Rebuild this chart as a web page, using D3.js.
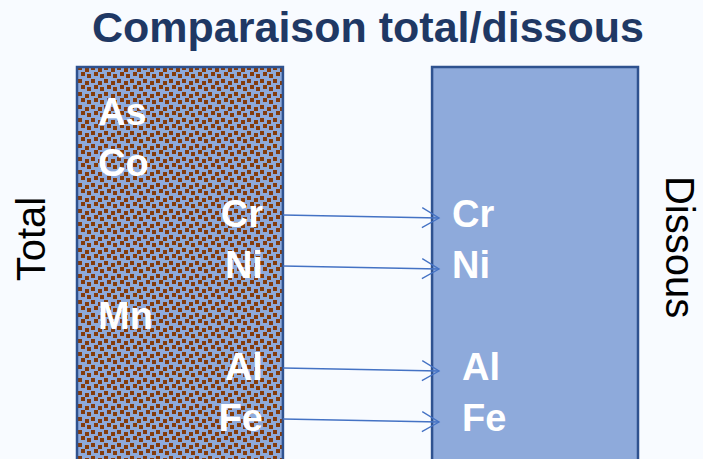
<!DOCTYPE html>
<html><head><meta charset="utf-8">
<script src="https://cdn.jsdelivr.net/npm/d3@7"></script>
<style>html,body{margin:0;padding:0;background:#f8fbff;}svg{display:block;}</style>
</head><body>
<svg id="c" width="703" height="459"></svg>
<script>
// ---- data ----
const title = "Comparaison total/dissous";
const rows = ["As", "Co", "Cr", "Ni", "Mn", "Al", "Fe"];
const totalElements = ["As", "Co", "Cr", "Ni", "Mn", "Al", "Fe"];
const dissolvedElements = ["Cr", "Ni", "Al", "Fe"];
const sideLabels = ["Total", "Dissous"];

// ---- drawing ----
const svg = d3.select("#c");
const W = 703, H = 459;
const blue = "#8eaadb", brown = "#843c0c", border = "#2f528f", navy = "#1f3864";

const defs = svg.append("defs");
const T = 13;
const pat = defs.append("pattern").attr("id", "conf").attr("patternUnits", "userSpaceOnUse")
  .attr("width", T).attr("height", T);
pat.append("rect").attr("width", T).attr("height", T).attr("fill", blue);
[[0,1],[7,3],[3,7],[9,9]].forEach(([x,y]) => {
  pat.append("rect").attr("x", x).attr("y", y).attr("width", 4).attr("height", 4).attr("fill", brown);
});

const mk = defs.append("marker").attr("id", "arr").attr("viewBox", "-18 -11 20 22")
  .attr("refX", 0).attr("refY", 0).attr("markerWidth", 20).attr("markerHeight", 22)
  .attr("markerUnits", "userSpaceOnUse").attr("orient", "auto");
mk.append("path").attr("d", "M-17,-10 L0,0 L-17,10").attr("fill", "none")
  .attr("stroke", "#4472c4").attr("stroke-width", 1.3);

// scales
const y = d3.scalePoint().domain(rows).range([125, 431]);
const col = d3.scaleBand().domain(sideLabels).range([77, 638]).paddingInner(0.42);

// title
svg.append("text").attr("x", 368).attr("y", 42).attr("text-anchor", "middle")
  .attr("font-family", "Liberation Sans, Arial, sans-serif").attr("font-weight", "bold")
  .attr("font-size", 43).attr("fill", navy).text(title);

// boxes
const xT = col("Total"), xD = col("Dissous"), bw = col.bandwidth();
svg.append("rect").attr("x", xT).attr("y", 67).attr("width", bw).attr("height", H)
  .attr("fill", "url(#conf)").attr("stroke", border).attr("stroke-width", 2.5);
svg.append("rect").attr("x", xD).attr("y", 67).attr("width", bw).attr("height", H)
  .attr("fill", blue).attr("stroke", border).attr("stroke-width", 2.5);

// arrows
const arrowDy = -10;
svg.selectAll("line.arrow").data(dissolvedElements).join("line").attr("class", "arrow")
  .attr("x1", xT + bw).attr("y1", d => y(d) + arrowDy - 2)
  .attr("x2", xD + 7).attr("y2", d => y(d) + arrowDy + 1)
  .attr("stroke", "#4472c4").attr("stroke-width", 1.3).attr("marker-end", "url(#arr)");

// total labels
const lab = { "font-family": "Liberation Sans, Arial, sans-serif", "font-weight": "bold", "font-size": 38, "fill": "#fff" };
const tl = svg.selectAll("text.tot").data(totalElements).join("text").attr("class", "tot")
  .attr("x", d => dissolvedElements.includes(d) ? xT + bw - 20 : xT + 21)
  .attr("text-anchor", d => dissolvedElements.includes(d) ? "end" : "start")
  .attr("y", d => y(d)).text(d => d);
Object.entries(lab).forEach(([k, v]) => tl.attr(k, v));

const dl = svg.selectAll("text.dis").data(dissolvedElements).join("text").attr("class", "dis")
  .attr("x", (d, i) => xD + (i < 2 ? 20 : 30))
  .attr("y", d => y(d)).text(d => d);
Object.entries(lab).forEach(([k, v]) => dl.attr(k, v));

// side labels
svg.append("text").attr("transform", "translate(45,239) rotate(-90)").attr("text-anchor", "middle")
  .attr("font-family", "Liberation Sans, Arial, sans-serif").attr("font-size", 40).attr("fill", "#000")
  .text(sideLabels[0]);
svg.append("text").attr("transform", "translate(666,247) rotate(90)").attr("text-anchor", "middle")
  .attr("font-family", "Liberation Sans, Arial, sans-serif").attr("font-size", 40).attr("fill", "#000")
  .text(sideLabels[1]);
</script>
</body></html>
